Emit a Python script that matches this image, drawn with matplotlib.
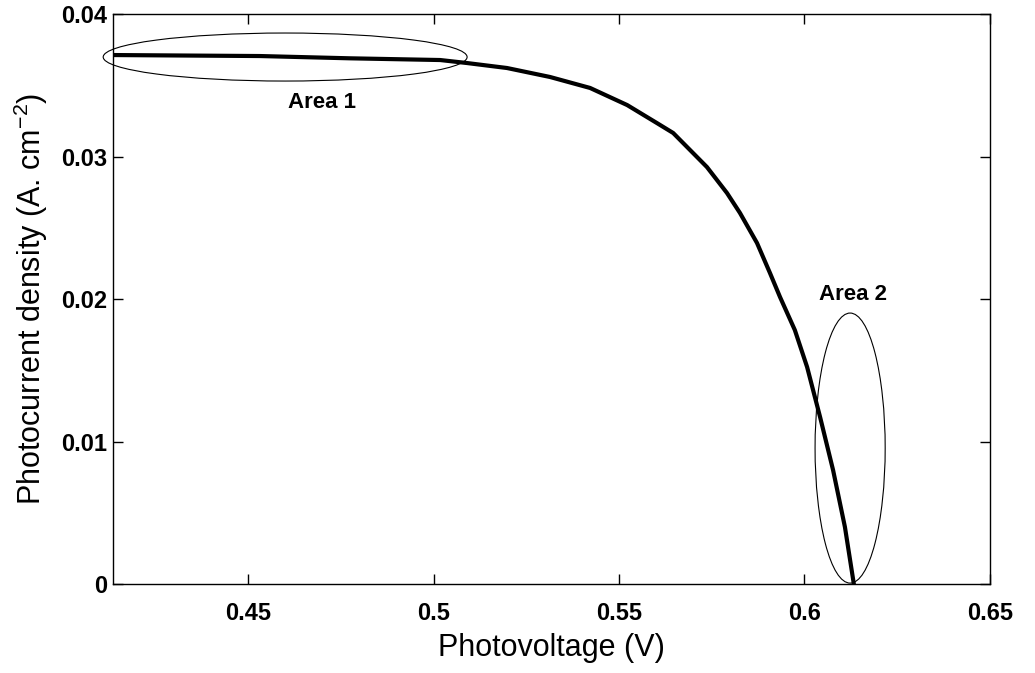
import numpy as np
import matplotlib.pyplot as plt
from matplotlib.patches import Ellipse

# values
voltage = [0.4136, 0.4532, 0.4775, 0.5018, 0.5090, 0.5198, 0.5314, 0.5422,
           0.5522, 0.5602, 0.5646, 0.5737, 0.5791, 0.5826, 0.5872, 0.5907,
           0.5934, 0.5974, 0.6007, 0.6042, 0.6077, 0.6109, 0.6133]
current = [0.03712, 0.03705, 0.03689, 0.03677, 0.03656, 0.03621, 0.03558, 0.03481,
           0.03361, 0.03235, 0.03165, 0.02926, 0.02744, 0.02604, 0.02393, 0.02182,
           0.02014, 0.01782, 0.01523, 0.01172, 0.00800, 0.00400, 0.0]

xticks = [0.45, 0.5, 0.55, 0.6, 0.65]
xticklabels = ['0.45', '0.5', '0.55', '0.6', '0.65']
yticks = [0, 0.01, 0.02, 0.03, 0.04]
yticklabels = ['0', '0.01', '0.02', '0.03', '0.04']

# highlighted regions: (center x, center y, width, height), label position
area1 = (0.4600, 0.03698, 0.0981, 0.00337)
area2 = (0.6123, 0.00954, 0.0189, 0.01895)
area1_text = (0.470, 0.0338)
area2_text = (0.613, 0.0203)

plt.rcParams['font.family'] = ['Liberation Sans', 'DejaVu Sans']
plt.rcParams['mathtext.fontset'] = 'custom'
plt.rcParams['mathtext.rm'] = 'Liberation Sans'
plt.rcParams['mathtext.it'] = 'Liberation Sans'

fig = plt.figure(figsize=(10.35, 6.73), dpi=100)
ax = fig.add_axes([0.1092, 0.1322, 0.9565 - 0.1092, 0.9792 - 0.1322])

ax.plot(voltage, current, color='black', lw=3.0, solid_joinstyle='round')

for (cx, cy, w, h) in (area1, area2):
    ax.add_patch(Ellipse((cx, cy), w, h, fill=False, edgecolor='black',
                         lw=0.8, clip_on=False))

ax.text(*area1_text, 'Area 1', fontsize=16, fontweight='bold', ha='center', va='center')
ax.text(*area2_text, 'Area 2', fontsize=16, fontweight='bold', ha='center', va='center')

ax.set_xlim(0.4136, 0.65)
ax.set_ylim(0, 0.04)
ax.set_xticks(xticks)
ax.set_xticklabels(xticklabels, fontsize=17, fontweight='bold')
ax.set_yticks(yticks)
ax.set_yticklabels(yticklabels, fontsize=17, fontweight='bold')
ax.tick_params(direction='in', top=True, right=True, length=7, width=1)
ax.tick_params(axis='x', pad=13)
ax.tick_params(axis='y', pad=4)

for s in ax.spines.values():
    s.set_linewidth(1.0)

ax.set_xlabel('Photovoltage (V)', fontsize=22, labelpad=6)
ax.set_ylabel(r'Photocurrent density (A. cm$^{-2}$)', fontsize=22, labelpad=8)

fig.savefig('out.png', dpi=100)
